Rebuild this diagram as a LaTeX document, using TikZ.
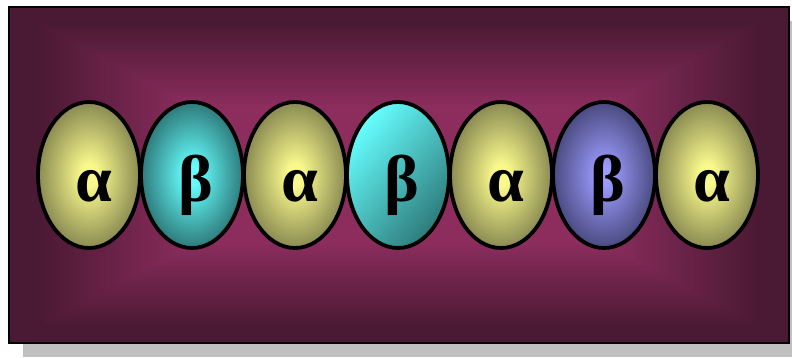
\documentclass[tikz,border=0pt]{standalone}
\usepackage{fontspec}
\setmainfont{Liberation Serif}
\usetikzlibrary{shapes.geometric}
\definecolor{bgin}{HTML}{8C2D5E}
\definecolor{bgout}{HTML}{4A1933}
\definecolor{shadowgray}{HTML}{C0C0C0}
\definecolor{yelin}{HTML}{F8F88C}
\definecolor{yelout}{HTML}{8A8A52}
\definecolor{cyin}{HTML}{66FFFF}
\definecolor{cyout}{HTML}{2E7A7A}
\definecolor{blin}{HTML}{9C9CFF}
\definecolor{blout}{HTML}{4A4A80}
\pgfdeclareradialshading[yelin,yelout]{yelbead}{\pgfpoint{0bp}{0bp}}{color(0bp)=(yelin); color(4bp)=(yelin); color(25bp)=(yelout); color(50bp)=(yelout)}
\pgfdeclareradialshading[cyin,cyout]{cybead}{\pgfpoint{0bp}{0bp}}{color(0bp)=(cyin); color(3bp)=(cyin); color(25bp)=(cyout); color(50bp)=(cyout)}
\pgfdeclareradialshading[blin,blout]{blbead}{\pgfpoint{0bp}{0bp}}{color(0bp)=(blin); color(3bp)=(blin); color(25bp)=(blout); color(50bp)=(blout)}
\tikzset{
  bead/.style={ellipse, draw=black, line width=3.8pt, minimum width=102pt, minimum height=146pt,
    inner sep=0pt},
  alphabead/.style={bead, shading=yelbead},
  betacyan/.style={bead, shading=cybead},
  betalin/.style={bead, shading=axis, top color=cyin, bottom color=cyout, shading angle=50},
  betablue/.style={bead, shading=blbead},
  greek/.style={anchor=base, inner sep=0pt, font=\fontsize{66}{66}\selectfont\bfseries},
}
\begin{document}
\begin{tikzpicture}[x=1pt,y=-1pt]
\useasboundingbox (0,0) rectangle (792,358);
\fill[shadowgray] (23,21) rectangle (803,357);
\fill[bgout] (9,7) rectangle (789,343);
\foreach \i in {0,...,60}{
  \pgfmathsetmacro{\dx}{\i*185/60}
  \pgfmathsetmacro{\dy}{\i*100/60}
  \pgfmathsetmacro{\p}{max(0,(\i/60-0.15)/0.85)*100}
  \fill[bgin!\p!bgout] (9+\dx,7+\dy) rectangle (789-\dx,343-\dy);
}
\draw[black, line width=2pt] (9,7) rectangle (789,343);
\node[alphabead] (b1) at (89,175) {};
\node[betacyan] (b2) at (192,175) {};
\node[alphabead] (b3) at (295,175) {};
\node[betalin] (b4) at (398,175) {};
\node[alphabead] (b5) at (501,175) {};
\node[betablue] (b6) at (604,175) {};
\node[alphabead] (b7) at (707,175) {};
\node[greek] (t1) at ([shift={(5,27)}]b1.center) {α};
\node[greek] (t2) at ([shift={(4,27)}]b2.center) {β};
\node[greek] (t3) at ([shift={(5,27)}]b3.center) {α};
\node[greek] (t4) at ([shift={(4,27)}]b4.center) {β};
\node[greek] (t5) at ([shift={(5,27)}]b5.center) {α};
\node[greek] (t6) at ([shift={(4,27)}]b6.center) {β};
\node[greek] (t7) at ([shift={(5,27)}]b7.center) {α};
\end{tikzpicture}
\end{document}
